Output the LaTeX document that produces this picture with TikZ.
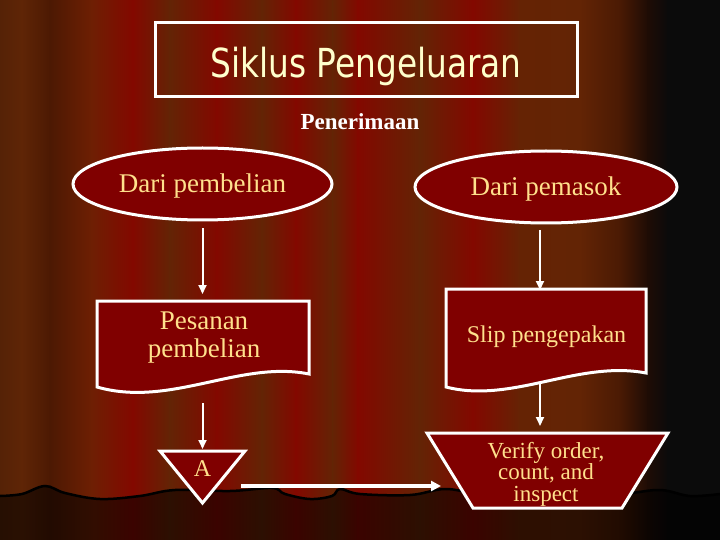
\documentclass[tikz,border=0pt]{standalone}
\usepackage{fontspec}
\setmainfont{Liberation Serif}
\newfontfamily\titlefont[FakeStretch=0.82]{DejaVu Sans}
\usetikzlibrary{shapes.geometric,arrows.meta}
\definecolor{nodered}{HTML}{800000}
\definecolor{gold}{HTML}{FFE08C}
\definecolor{cream}{HTML}{FFFFCC}
\definecolor{sA}{HTML}{552206}
\definecolor{sB}{HTML}{5F2506}
\definecolor{sC}{HTML}{4C1903}
\definecolor{sD}{HTML}{6E1F03}
\definecolor{sR}{HTML}{830800}
\definecolor{sW}{HTML}{632405}
\definecolor{sE}{HTML}{652304}
\definecolor{sF}{HTML}{4A1A04}
\definecolor{sG}{HTML}{1E0C05}
\definecolor{sK}{HTML}{0B0B0B}
\begin{document}
\begin{tikzpicture}[x=1pt,y=-1pt,
  shapeline/.style={draw=white, line width=3pt, fill=nodered},
  arr/.style={draw=white, line width=2pt, -{Triangle[length=9pt,width=8pt]}},
  gtext/.style={text=gold, inner sep=0pt},
]
\useasboundingbox (0,0) rectangle (720,540);
% curtain background
\foreach \xa/\ca/\xb/\cb in {0/sA/22/sB, 22/sB/50/sC, 50/sC/92/sD, 92/sD/133/sR, 133/sR/170/sW,
  170/sW/217/sR, 217/sR/262/sW, 262/sW/296/sR, 296/sR/333/sW, 333/sW/358/sR, 358/sR/420/sW,
  420/sW/473/sR, 473/sR/520/sE, 520/sE/580/sW, 580/sW/620/sF, 620/sF/648/sG, 648/sG/668/sK, 668/sK/720/sK}
  { \shade[left color=\ca, right color=\cb] (\xa-0.5,0) rectangle (\xb+0.5,540); }
\fill[black, opacity=0.55] plot[smooth, tension=0.6] coordinates {(0,496) (22,494) (45,486) (65,493) (100,499) (140,496) (175,490) (230,491) (272,488) (285,494) (310,499) (332,496) (340,489) (360,494) (410,495) (445,489) (480,494) (540,497) (620,494) (660,490) (690,496) (720,494)} -- (720,540) -- (0,540) -- cycle;
\draw[black, line width=2.5pt] plot[smooth, tension=0.6] coordinates {(0,496) (22,494) (45,486) (65,493) (100,499) (140,496) (175,490) (230,491) (272,488) (285,494) (310,499) (332,496) (340,489) (360,494) (410,495) (445,489) (480,494) (540,497) (620,494) (660,490) (690,496) (720,494)};

% title
\node[draw=white, line width=3pt, minimum width=422, minimum height=74, inner sep=0pt] (titlebox) at (366,60) {};
\node[anchor=base, text=cream, inner sep=0pt, font={\titlefont\fontsize{40}{40}\selectfont}] (titletext) at (366,78) {Siklus Pengeluaran};
\node[anchor=base, text=white, inner sep=0pt, font={\fontsize{23}{23}\selectfont\bfseries}] (pen) at (360,130) {Penerimaan};

% ellipses
\node[ellipse, shapeline, minimum width=259, minimum height=72, inner sep=0pt, gtext, text height=18pt, text depth=1pt, font={\fontsize{27}{28}\selectfont}] (e1) at (202.5,184) {Dari pembelian};
\node[ellipse, shapeline, minimum width=262, minimum height=72, inner sep=0pt, gtext, text height=18pt, text depth=1pt, font={\fontsize{27}{28}\selectfont}] (e2) at (546,187) {Dari pemasok};

% documents
\draw[shapeline] (97,301) -- (309,301) -- (309,374) .. controls (240,360) and (170,408) .. (97,387) -- cycle;
\node[gtext, align=center, font={\fontsize{27}{28}\selectfont}] (d1) at (204,338) {Pesanan\\pembelian};
\draw[shapeline] (446,289) -- (646,289) -- (646,373) .. controls (578,360) and (512,404) .. (446,387) -- cycle;
\node[gtext, anchor=base, font={\fontsize{24}{24}\selectfont}] (d2) at (546.5,342) {Slip pengepakan};

% off-page connector triangle
\draw[shapeline] (160,451) -- (245,451) -- (202.5,503) -- cycle;
\node[gtext, anchor=base, font={\fontsize{24}{24}\selectfont}] (conA) at (202.5,476) {A};

% trapezoid (manual operation)
\draw[shapeline] (427,433) -- (668,433) -- (622,508) -- (473,508) -- cycle;
\node[gtext, align=center, font={\fontsize{23}{21.5}\selectfont}] (ver) at (546,474) {Verify order,\\count, and\\inspect};

% connector coordinates
\coordinate (d1n) at (202.5,294);
\coordinate (d1s) at (202.5,403);
\coordinate (trin) at (202.5,449);
\coordinate (d2n) at (540,290);
\coordinate (d2s) at (540,384);
\coordinate (trapn) at (540,426);
\coordinate (hs) at (241,486);
\coordinate (he) at (441,486);

\draw[arr] ([yshift=-7pt]e1.south) -- (d1n);
\draw[arr] (d1s) -- (trin);
\draw[arr] (e2.south -| d2n) ++(0,6) -- (d2n);
\draw[arr] (d2s) -- (trapn);
\draw[draw=white, line width=4pt, -{Triangle[length=10pt,width=10pt]}] (hs) -- (he);
\end{tikzpicture}
\end{document}
